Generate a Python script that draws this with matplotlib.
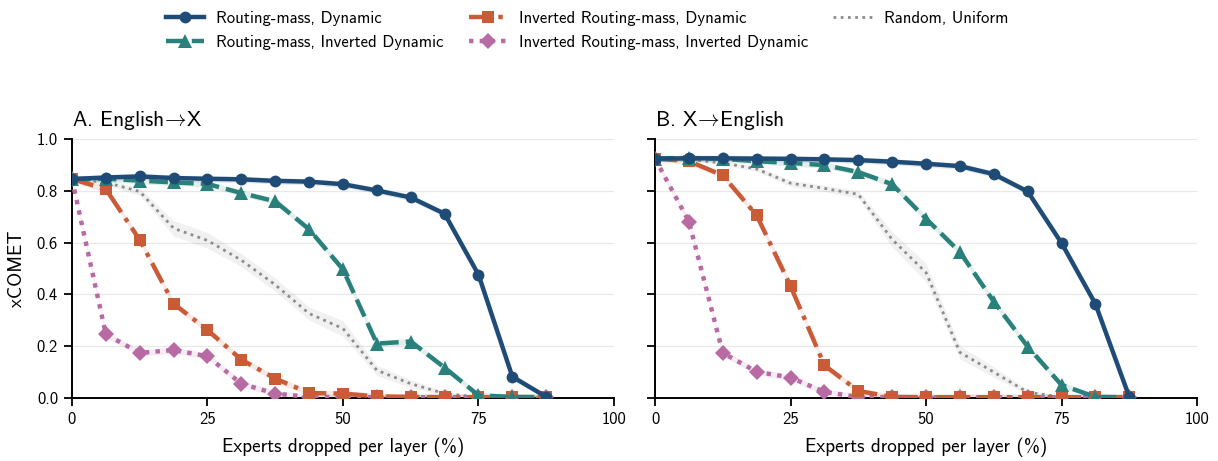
import matplotlib
matplotlib.use("Agg")
import matplotlib.pyplot as plt
import numpy as np

plt.rcParams["font.family"] = ["cmss10", "DejaVu Sans"]
plt.rcParams["mathtext.fontset"] = "cm"
plt.rcParams["axes.unicode_minus"] = False
plt.rcParams["axes.formatter.use_mathtext"] = True

# Share of experts dropped per layer (%)
drop_pct = [0, 6.25, 12.5, 18.75, 25, 31.25, 37.5, 43.75, 50, 56.25, 62.5, 68.75, 75, 81.25, 87.5]

# A. English -> X
en_x_rm_dyn = [0.845, 0.851, 0.855, 0.849, 0.846, 0.844, 0.838, 0.835, 0.825, 0.801, 0.774, 0.711, 0.476, 0.082, 0.004]
en_x_rm_invdyn = [0.845, 0.846, 0.839, 0.832, 0.826, 0.791, 0.759, 0.651, 0.496, 0.210, 0.218, 0.117, 0.010, 0.004, 0.003]
en_x_invrm_dyn = [0.845, 0.806, 0.610, 0.364, 0.262, 0.148, 0.075, 0.019, 0.017, 0.006, 0.004, 0.003, 0.003, 0.003, 0.003]
en_x_invrm_invdyn = [0.845, 0.246, 0.174, 0.185, 0.161, 0.055, 0.017, 0.004, 0.004, 0.003, 0.003, 0.003, 0.003, 0.003, 0.003]
en_x_random = [0.845, 0.832, 0.797, 0.655, 0.608, 0.532, 0.437, 0.326, 0.268, 0.107, 0.055, 0.017, 0.004, 0.002, 0.002]
en_x_random_sd = [0.0, 0.01, 0.015, 0.03, 0.03, 0.025, 0.025, 0.025, 0.03, 0.02, 0.015, 0.008, 0.003, 0.002, 0.002]

# B. X -> English
x_en_rm_dyn = [0.924, 0.925, 0.925, 0.924, 0.923, 0.921, 0.918, 0.912, 0.904, 0.895, 0.864, 0.797, 0.598, 0.363, 0.004]
x_en_rm_invdyn = [0.924, 0.926, 0.923, 0.914, 0.907, 0.899, 0.872, 0.825, 0.692, 0.563, 0.372, 0.198, 0.050, 0.004, 0.003]
x_en_invrm_dyn = [0.924, 0.914, 0.859, 0.705, 0.432, 0.126, 0.027, 0.004, 0.003, 0.003, 0.003, 0.003, 0.003, 0.003, 0.003]
x_en_invrm_invdyn = [0.924, 0.681, 0.174, 0.101, 0.079, 0.023, 0.004, 0.003, 0.003, 0.003, 0.003, 0.003, 0.003, 0.003, 0.003]
x_en_random = [0.924, 0.920, 0.907, 0.884, 0.829, 0.809, 0.786, 0.612, 0.484, 0.176, 0.100, 0.022, 0.004, 0.002, 0.002]
x_en_random_sd = [0.0, 0.005, 0.008, 0.01, 0.012, 0.012, 0.015, 0.03, 0.035, 0.025, 0.02, 0.01, 0.003, 0.002, 0.002]

series_labels = [
    "Routing-mass, Dynamic",
    "Routing-mass, Inverted Dynamic",
    "Inverted Routing-mass, Dynamic",
    "Inverted Routing-mass, Inverted Dynamic",
    "Random, Uniform",
]
panel_titles = [r"A. English$\!\rightarrow\!$X", r"B. X$\!\rightarrow\!$English"]
x_ticks = [0, 25, 50, 75, 100]
y_ticks = [0.0, 0.2, 0.4, 0.6, 0.8, 1.0]

colors = ["#1f4b77", "#2a817b", "#c95c37", "#b86aa3", "#8c8c8c"]
styles = [
    dict(ls="-", marker="o", lw=3.2, ms=8.5),
    dict(ls=(0, (4.2, 1.6)), marker="^", lw=3.2, ms=9.5),
    dict(ls=(0, (5, 1.6, 1, 1.6)), marker="s", lw=3.2, ms=8.5),
    dict(ls=(0, (1, 1.4)), marker="D", lw=3.2, ms=8),
    dict(ls=(0, (1, 1.6)), marker=None, lw=2.0, ms=0),
]
halo_sd = 0.012

fig = plt.figure(figsize=(12.18, 4.61), dpi=100)
ax_a = fig.add_axes([0.0591, 0.1367, 0.445, 0.562])
ax_b = fig.add_axes([0.5378, 0.1367, 0.445, 0.562])

panels = [
    (ax_a, [en_x_rm_dyn, en_x_rm_invdyn, en_x_invrm_dyn, en_x_invrm_invdyn, en_x_random], en_x_random_sd),
    (ax_b, [x_en_rm_dyn, x_en_rm_invdyn, x_en_invrm_dyn, x_en_invrm_invdyn, x_en_random], x_en_random_sd),
]

handles = []
for i, (ax, data, rand_sd) in enumerate(panels):
    x = np.array(drop_pct)
    for k in range(5):
        y = np.array(data[k])
        sd = np.array(rand_sd) if k == 4 else halo_sd
        ax.fill_between(x, np.clip(y - sd, 0, None), y + sd, color=colors[k],
                        alpha=0.13 if k != 4 else 0.12, lw=0, zorder=1 + k * 0.1)
    # draw in order so the solid curve sits on top
    order = [4, 3, 2, 1, 0]
    hs = {}
    for k in order:
        st = styles[k]
        (h,) = ax.plot(drop_pct, data[k], color=colors[k], linestyle=st["ls"],
                       lw=st["lw"], marker=st["marker"], ms=st["ms"],
                       markeredgewidth=0, label=series_labels[k],
                       zorder=3 + (5 - k) * 0.1, dash_capstyle="butt")
        hs[k] = h
    if i == 0:
        handles = [hs[k] for k in range(5)]

    ax.set_xlim(0, 100)
    ax.set_ylim(0, 1.0)
    ax.set_xticks(x_ticks)
    ax.set_yticks(y_ticks)
    ax.set_xticklabels([str(t) for t in x_ticks])
    if i == 0:
        ax.set_yticklabels([f"{t:.1f}" for t in y_ticks])
        ax.set_ylabel("xCOMET", fontsize=13.8, labelpad=8)
    else:
        ax.set_yticklabels([])
    ax.set_xlabel("Experts dropped per layer (%)", fontsize=13.8, labelpad=8)
    ax.set_title(panel_titles[i], loc="left", fontsize=15.5, pad=9)
    ax.grid(axis="y", color="#e8e8e8", lw=0.9)
    ax.set_axisbelow(True)
    for side in ["top", "right"]:
        ax.spines[side].set_visible(False)
    for side in ["left", "bottom"]:
        ax.spines[side].set_linewidth(1.4)
        ax.spines[side].set_color("black")
    ax.tick_params(axis="both", direction="out", length=6, width=1.3,
                   labelsize=12, colors="black", pad=4)

fig.legend(handles=handles, labels=series_labels, loc="upper center",
           bbox_to_anchor=(0.482, 1.009), ncol=3, frameon=False, fontsize=12,
           handlelength=2.3, columnspacing=1.5, labelspacing=0.55, handletextpad=0.72)

fig.savefig("out.png", dpi=100)
